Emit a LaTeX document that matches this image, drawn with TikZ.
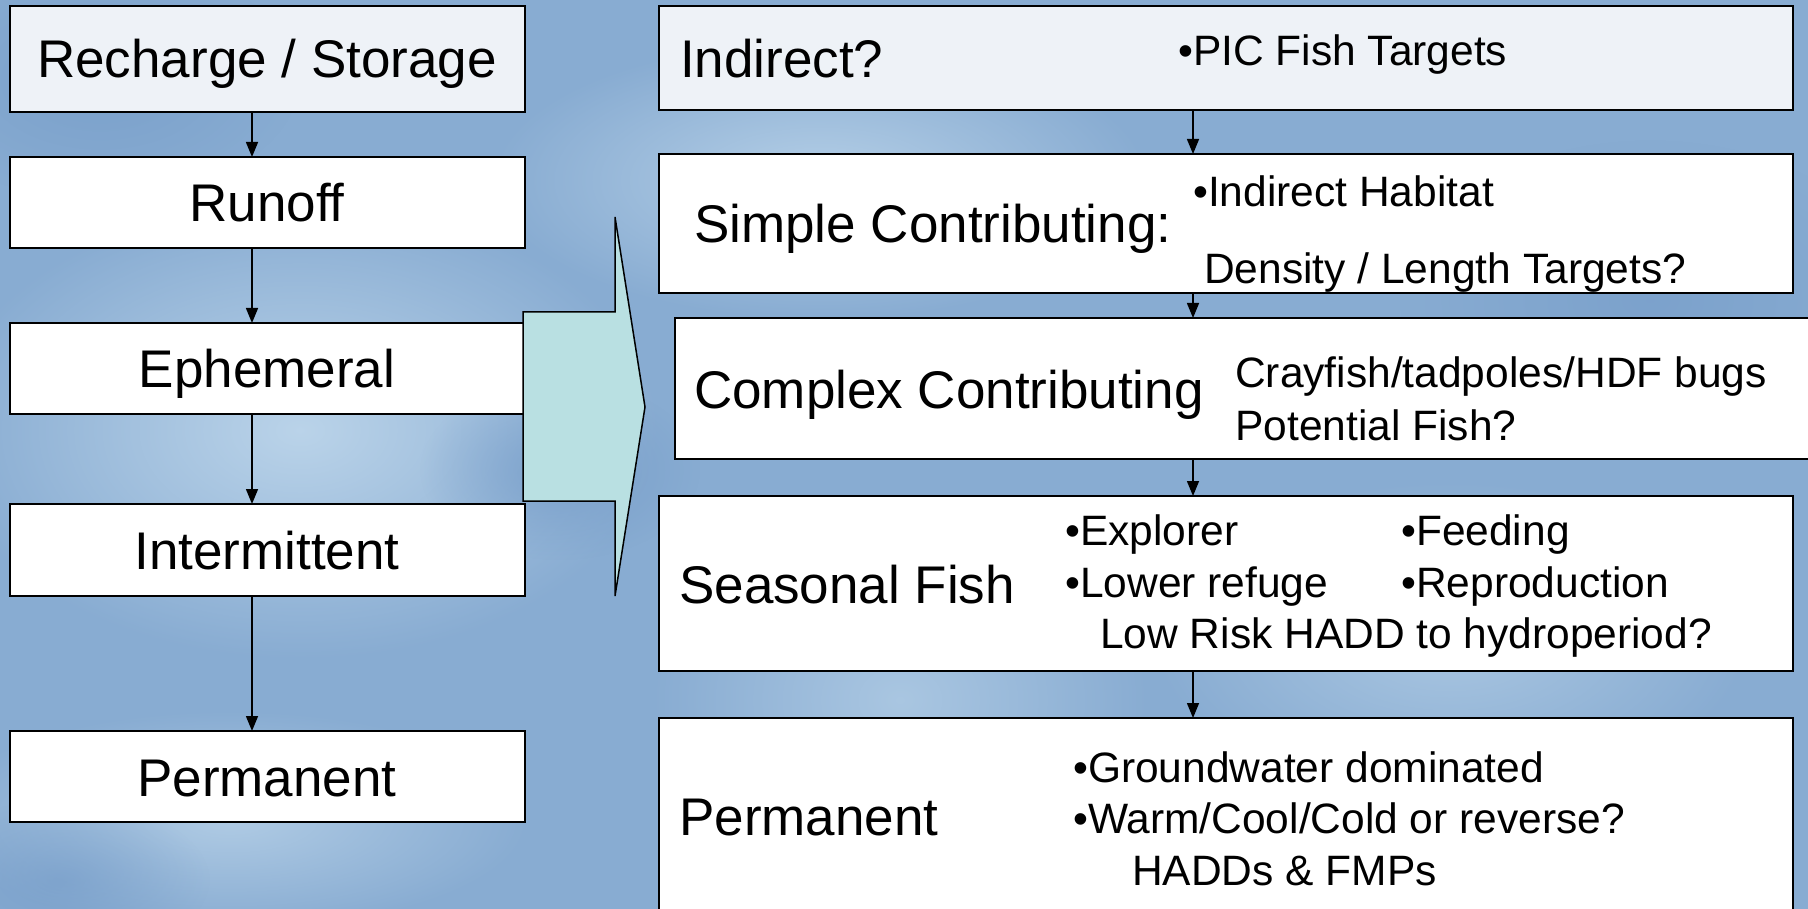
\documentclass[tikz,border=0pt]{standalone}
\usepackage{fontspec}
\setmainfont{Liberation Sans}
\usetikzlibrary{arrows.meta,fadings}
\definecolor{bgblue}{RGB}{136,172,210}
\definecolor{bglight}{RGB}{192,216,236}
\definecolor{bgdark}{RGB}{116,155,200}
\definecolor{arrowfill}{RGB}{185,224,226}
\definecolor{dotfill}{RGB}{238,242,247}
\tikzfading[name=fuzzy, inner color=transparent!0, outer color=transparent!100]
\begin{document}
\begin{tikzpicture}[x=1pt,y=-1pt,
  box/.style={draw=black, line width=2pt, fill=white, rectangle, inner sep=0pt, outer sep=0pt, anchor=north west},
  big/.style={font=\fontsize{53}{60}\selectfont, inner sep=0pt, text=black},
  small/.style={font=\fontsize{42.5}{50}\selectfont, inner sep=0pt, text=black},
  arr/.style={line width=1.5pt, -{Triangle[length=15pt,width=12pt]}},
  patch/.style={path fading=fuzzy},
]
\useasboundingbox (0,0) rectangle (1808,909);
\clip (0,0) rectangle (1808,909);
% background
\fill[bgblue] (0,0) rectangle (1808,909);
\fill[bglight, patch, opacity=0.9] (300,430) ellipse (360pt and 230pt);
\fill[bglight, patch, opacity=0.8] (820,180) ellipse (330pt and 140pt);
\fill[bglight, patch, opacity=0.7] (230,820) ellipse (300pt and 110pt);
\fill[bglight, patch, opacity=0.6] (1450,640) ellipse (300pt and 160pt);
\fill[bglight, patch, opacity=0.6] (900,700) ellipse (250pt and 200pt);
\fill[bgdark, patch, opacity=0.8] (560,470) ellipse (140pt and 90pt);
\fill[bgdark, patch, opacity=0.7] (100,80) ellipse (200pt and 120pt);
\fill[bgdark, patch, opacity=0.6] (1650,300) ellipse (250pt and 160pt);
\fill[bgdark, patch, opacity=0.6] (60,880) ellipse (150pt and 80pt);

\coordinate (lx) at (252,0);
\coordinate (rx) at (1193,0);

% left column
\node[box, fill=dotfill, minimum width=515pt, minimum height=106pt] (rech) at (10,6) {};
\node[box, minimum width=515pt, minimum height=91pt] (runoff) at (10,157) {};
\node[box, minimum width=515pt, minimum height=91pt] (eph) at (10,323) {};
\node[box, minimum width=515pt, minimum height=92pt] (inter) at (10,504) {};
\node[box, minimum width=515pt, minimum height=91pt] (permL) at (10,731) {};

\node[big, anchor=base] (rechT) at (267,78) {Recharge / Storage};
\node[big, anchor=base] (runoffT) at (267,222) {Runoff};
\node[big, anchor=base] (ephT) at (267,388) {Ephemeral};
\node[big, anchor=base] (interT) at (267,569) {Intermittent};
\node[big, anchor=base] (permLT) at (267,796) {Permanent};

\draw[arr] (rech.south -| lx) -- (runoff.north -| lx);
\draw[arr] (runoff.south -| lx) -- (eph.north -| lx);
\draw[arr] (eph.south -| lx) -- (inter.north -| lx);
\draw[arr] (inter.south -| lx) -- (permL.north -| lx);

% right column
\node[box, fill=dotfill, minimum width=1134pt, minimum height=104pt] (ind) at (659,6) {};
\node[box, minimum width=1134pt, minimum height=139pt] (simple) at (659,154) {};
\node[box, minimum width=1160pt, minimum height=141pt] (complex) at (675,318) {};
\node[box, minimum width=1134pt, minimum height=175pt] (seas) at (659,496) {};
\node[box, minimum width=1134pt, minimum height=220pt] (permR) at (659,718) {};

\draw[arr] (ind.south -| rx) -- (simple.north -| rx);
\draw[arr] (simple.south -| rx) -- (complex.north -| rx);
\draw[arr] (complex.south -| rx) -- (seas.north -| rx);
\draw[arr] (seas.south -| rx) -- (permR.north -| rx);

\node[big, anchor=base west] (indT) at (680,78) {Indirect?};
\node[small, anchor=base west] (indA) at (1178,66) {•PIC Fish Targets};

\node[big, anchor=base west] (simpleT) at (694,243) {Simple Contributing:};
\node[small, anchor=base west] (simpleA) at (1193,207) {•Indirect Habitat};
\node[small, anchor=base west] (simpleB) at (1204,284) {Density / Length Targets?};

\node[big, anchor=base west] (complexT) at (694,408) {Complex Contributing};
\node[small, anchor=base west] (complexA) at (1235,388) {Crayfish/tadpoles/HDF bugs};
\node[small, anchor=base west] (complexB) at (1235,440) {Potential Fish?};

\node[big, anchor=base west] (seasT) at (679,603) {Seasonal Fish};
\node[small, anchor=base west] (seasA) at (1065,545) {•Explorer};
\node[small, anchor=base west] (seasB) at (1401,545) {•Feeding};
\node[small, anchor=base west] (seasC) at (1065,597) {•Lower refuge};
\node[small, anchor=base west] (seasD) at (1401,597) {•Reproduction};
\node[small, anchor=base west] (seasE) at (1100,648) {Low Risk HADD to hydroperiod?};

\node[big, anchor=base west] (permRT) at (679,835) {Permanent};
\node[small, anchor=base west] (permA) at (1073,782) {•Groundwater dominated};
\node[small, anchor=base west] (permB) at (1073,833) {•Warm/Cool/Cold or reverse?};
\node[small, anchor=base west] (permC) at (1132,885) {HADDs \& FMPs};

% big block arrow
\draw[line width=1.5pt, fill=arrowfill, line join=miter]
  (523,312) -- (615,312) -- (615,217) -- (645,407) -- (615,596) -- (615,501) -- (523,501) -- cycle;
\end{tikzpicture}
\end{document}
